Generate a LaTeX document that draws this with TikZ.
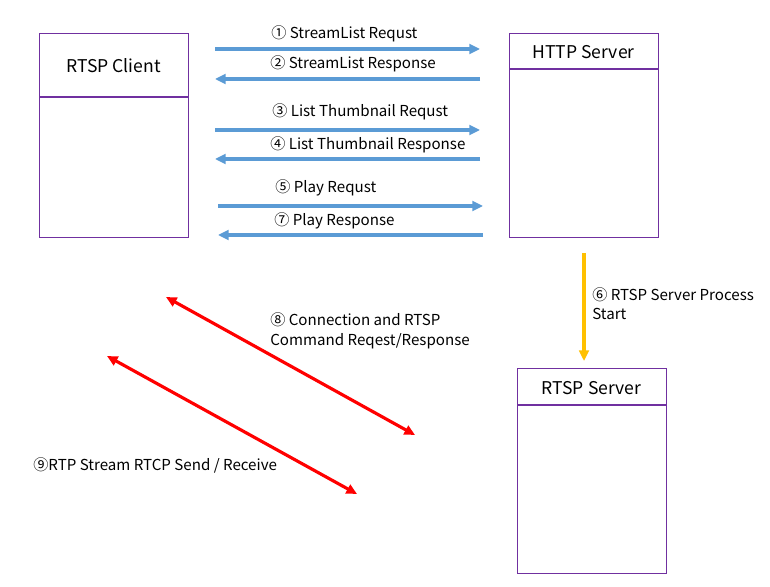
\documentclass[tikz,border=0pt]{standalone}
\usepackage{fontspec}
\setmainfont{Noto Sans CJK KR}
\usetikzlibrary{arrows.meta}
\definecolor{boxpurple}{HTML}{7030A0}
\definecolor{msgblue}{HTML}{5B9BD5}
\definecolor{procyellow}{HTML}{FFC000}
\tikzset{
  entity/.style={draw=boxpurple, line width=0.6pt, rectangle, anchor=north west, inner sep=0pt},
  title/.style={font=\fontsize{10}{12}\selectfont},
  msg/.style={msgblue, line width=1.9pt, -{Triangle[length=6pt,width=5.5pt]}},
  stream/.style={red, line width=1.8pt, {Triangle[length=6pt,width=5.5pt]}-{Triangle[length=6pt,width=5.5pt]}},
  proc/.style={procyellow, line width=1.8pt, -{Triangle[length=6pt,width=5.5pt]}},
  lbl/.style={anchor=west, inner sep=0pt, font=\fontsize{8.6}{11}\selectfont, align=left}
}
\begin{document}
\begin{tikzpicture}[x=0.02cm, y=-0.02cm]
    \useasboundingbox (0,0) rectangle (770,587);
    % boxes
    \node[entity, minimum width=149*0.02cm, minimum height=204*0.02cm] (client) at (39,33) {};
    \node[entity, minimum width=149*0.02cm, minimum height=204*0.02cm] (http) at (509,33) {};
    \node[entity, minimum width=149*0.02cm, minimum height=205*0.02cm] (rtsp) at (517,368) {};
    \draw[boxpurple, line width=0.6pt] (39,97) -- (188,97);
    \draw[boxpurple, line width=0.6pt] (509,69) -- (658,69);
    \draw[boxpurple, line width=0.6pt] (517,405) -- (666,405);
    \node[title] (clienttitle) at (113.5,66) {RTSP Client};
    \node[title] (httptitle) at (583.5,52) {HTTP Server};
    \node[title] (rtsptitle) at (591.5,388) {RTSP Server};
    % message ends
    \coordinate (c1) at (215,49);  \coordinate (h1) at (480,49);
    \coordinate (c2) at (215,79);  \coordinate (h2) at (480,79);
    \coordinate (c3) at (215,130); \coordinate (h3) at (480,130);
    \coordinate (c4) at (215,159); \coordinate (h4) at (480,159);
    \coordinate (c5) at (218,206); \coordinate (h5) at (483,206);
    \coordinate (c7) at (218,235); \coordinate (h7) at (483,235);
    \draw[msg] (c1) -- (h1);
    \draw[msg] (h2) -- (c2);
    \draw[msg] (c3) -- (h3);
    \draw[msg] (h4) -- (c4);
    \draw[msg] (c5) -- (h5);
    \draw[msg] (h7) -- (c7);
    \node[lbl] (l1) at (271,34) {① StreamList Requst};
    \node[lbl] (l2) at (270,64) {② StreamList Response};
    \node[lbl] (l3) at (272,112) {③ List Thumbnail Requst};
    \node[lbl] (l4) at (270,145) {④ List Thumbnail Response};
    \node[lbl] (l5) at (275,188) {⑤ Play Requst};
    \node[lbl] (l7) at (274,221) {⑦ Play Response};
    % server start
    \coordinate (s1) at (584,253);
    \coordinate (s2) at (584,361);
    \draw[proc] (s1) -- (s2);
    \node[lbl] (l6) at (592,304) {⑥ RTSP Server Process\\Start};
    % streams
    \coordinate (r1) at (166,297); \coordinate (r2) at (415,435);
    \coordinate (r3) at (107,356); \coordinate (r4) at (357,494);
    \draw[stream] (r1) -- (r2);
    \draw[stream] (r3) -- (r4);
    \node[lbl] (l8) at (270,331) {⑧ Connection and RTSP\\Command Reqest/Response};
    \node[lbl] (l9) at (33,465) {⑨RTP Stream RTCP Send / Receive};
\end{tikzpicture}
\end{document}
